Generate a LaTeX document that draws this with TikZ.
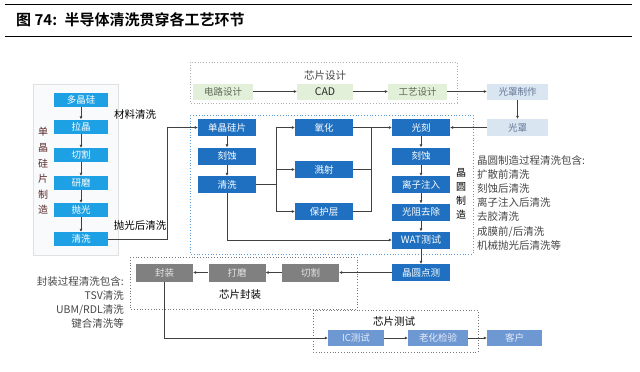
\documentclass[tikz,border=0pt]{standalone}
\usepackage{fontspec}
\setmainfont{Noto Sans CJK SC}[BoldFont={Noto Sans CJK SC Bold}]
\usetikzlibrary{arrows.meta,positioning,calc}
\definecolor{cyanb}{RGB}{30,160,228}
\definecolor{blueb}{RGB}{31,112,192}
\definecolor{greenf}{RGB}{226,239,217}
\definecolor{greent}{RGB}{95,105,85}
\definecolor{lbluef}{RGB}{218,229,242}
\definecolor{lbluet}{RGB}{100,120,150}
\definecolor{grayf}{RGB}{128,128,128}
\definecolor{grayt}{RGB}{228,228,228}
\definecolor{testf}{RGB}{110,152,210}
\definecolor{testt}{RGB}{228,236,250}
\definecolor{linec}{RGB}{64,64,64}
\definecolor{dgray}{RGB}{175,175,175}
\definecolor{dgray2}{RGB}{120,120,120}
\definecolor{dblue}{RGB}{91,155,213}
\definecolor{txt}{RGB}{70,70,70}
\definecolor{maroon}{RGB}{90,40,40}
\tikzset{
  boxbase/.style={inner sep=0pt, font=\fontsize{9.5}{10}\selectfont},
  cyanbox/.style={boxbase, fill=cyanb, text=white, minimum width=54pt, minimum height=14pt},
  bluebox/.style={boxbase, fill=blueb, text=white, minimum width=58pt, minimum height=17pt},
  greenbox/.style={boxbase, fill=greenf, text=greent, minimum height=16pt},
  lbluebox/.style={boxbase, fill=lbluef, text=lbluet, minimum width=61pt, minimum height=16pt},
  graybox/.style={boxbase, fill=grayf, text=grayt, minimum width=57pt, minimum height=18pt},
  testbox/.style={boxbase, fill=testf, text=testt, minimum height=16pt},
  conn/.style={draw=linec, line width=0.7pt, -{Latex[length=3pt,width=3pt]}},
  plain/.style={draw=linec, line width=0.7pt},
  frame/.style={dotted, line width=0.8pt},
  lbl/.style={inner sep=0pt, text=txt, font=\fontsize{10.5}{12}\selectfont},
}
\begin{document}
\begin{tikzpicture}[x=1pt,y=-1pt]
\useasboundingbox (0,0) rectangle (640,372);
% title
\draw[line width=1pt, black] (5,4.5) -- (632,4.5);
\draw[line width=1pt, black] (5,36) -- (632,36);
\node[anchor=west, inner sep=0pt, font=\fontsize{15}{16}\selectfont\bfseries] (title) at (16,20) {图 74:\hspace{0.5em}半导体清洗贯穿各工艺环节};

% frames
\draw[draw={rgb,255:red,225;green,225;blue,225}, fill={rgb,255:red,248;green,250;blue,252}] (33,84) rectangle (118,255);
\draw[frame, draw=dgray] (190,62) rectangle (457,103);
\draw[frame, draw=dblue] (190,115) rectangle (473,254);
\draw[frame, draw=dgray2] (130,257) rectangle (357,309);
\draw[frame, draw=dgray2] (313,310) rectangle (478,352);

% left column
\node[cyanbox] (a1) at (81,100) {多晶硅};
\node[cyanbox] (a2) at (81,126.5) {拉晶};
\node[cyanbox] (a3) at (81,155) {切割};
\node[cyanbox] (a4) at (81,183) {研磨};
\node[cyanbox] (a5) at (81,210) {抛光};
\node[cyanbox] (a6) at (81,239) {清洗};
\node[lbl, text=maroon, align=center, font=\fontsize{10}{15.6}\selectfont] (vt1) at (43,171) {单\\晶\\硅\\片\\制\\造};
\node[lbl, text=black] (l1) at (135,115) {材料清洗};
\node[lbl, text=black] (l2) at (140,226) {抛光后清洗};
\foreach \p/\q in {a1/a2,a2/a3,a3/a4,a4/a5,a5/a6} \draw[conn] (\p) -- (\q);

% design row
\node[lbl] (dlab) at (325,76) {芯片设计};
\node[greenbox, minimum width=60pt] (d1) at (223,91.5) {电路设计};
\node[greenbox, minimum width=56pt, font=\fontsize{10.5}{11}\selectfont, text={rgb,255:red,40;green,40;blue,40}] (d2) at (325,91.5) {CAD};
\node[greenbox, minimum width=59pt] (d3) at (417.5,91.5) {工艺设计};
\node[lbluebox] (d4) at (517.5,91.5) {光罩制作};
\node[lbluebox, minimum height=17pt] (d5) at (517.5,127.5) {光罩};
\draw[conn] (d1) -- (d2);
\draw[conn] (d2) -- (d3);
\draw[conn] (d3) -- (d4);
\draw[conn] (d4) -- (d5);

% wafer fab
\node[bluebox] (w1) at (227,127.5) {单晶硅片};
\node[bluebox] (w2) at (227,156) {刻蚀};
\node[bluebox] (w3) at (227,184.5) {清洗};
\node[bluebox] (m1) at (324,127.5) {氧化};
\node[bluebox] (m2) at (324,169.5) {溅射};
\node[bluebox] (m3) at (324,211.5) {保护层};
\node[bluebox] (r1) at (421,127.5) {光刻};
\node[bluebox] (r2) at (421,156) {刻蚀};
\node[bluebox] (r3) at (421,184.5) {离子注入};
\node[bluebox] (r4) at (421,212) {光阻去除};
\node[bluebox, font=\fontsize{10}{11}\selectfont] (r5) at (421,240) {WAT测试};
\node[bluebox] (r6) at (421,272.5) {晶圆点测};
\node[lbl, text=black, align=center, font=\fontsize{10}{14}\selectfont] (vt2) at (461,194) {晶\\圆\\制\\造};

\draw[conn] (a6.east) -| ([xshift=-30pt]w1.west) -- (w1.west);
\draw[conn] (w1) -- (w2);
\draw[conn] (w2) -- (w3);
\coordinate (tl) at (276,184.5);
\coordinate (tr) at (371,127.5);
\draw[plain] (w3.east) -- (tl);
\draw[conn] (tl) |- (m1.west);
\draw[conn] (tl) |- (m3.west);
\draw[conn] (tl |- m2.west) -- (m2.west);
\draw[plain] (m2.east) -| (tr);
\draw[plain] (m3.east) -| (tr);
\draw[conn] (m1.east) -- (r1.west);
\draw[conn] (d5.west) -- (r1.east);
\foreach \p/\q in {r1/r2,r2/r3,r3/r4,r4/r5,r5/r6} \draw[conn] (\p) -- (\q);
\draw[conn] (w3.south) |- (r5.west);

% right text
\node[lbl, anchor=north west, align=left, font=\fontsize{10.5}{14.2}\selectfont] (rt) at (477,155) {晶圆制造过程清洗包含:\\扩散前清洗\\刻蚀后清洗\\离子注入后清洗\\去胶清洗\\成膜前/后清洗\\机械抛光后清洗等};

% packaging
\node[graybox] (p1) at (164.5,272.5) {封装};
\node[graybox] (p2) at (237,272.5) {打磨};
\node[graybox] (p3) at (310.5,272.5) {切割};
\node[lbl, text=black] (plab) at (240,295) {芯片封装};
\draw[conn] (r6) -- (p3);
\draw[conn] (p3) -- (p2);
\draw[conn] (p2) -- (p1);
\node[lbl, anchor=north east, align=right, font=\fontsize{10.5}{14}\selectfont] (lt) at (124,276) {封装过程清洗包含:\\TSV清洗\\UBM/RDL清洗\\键合清洗等};

% test
\node[lbl, text=black] (tlab) at (394,322) {芯片测试};
\node[testbox, minimum width=56pt] (t1) at (356,338) {IC测试};
\node[testbox, minimum width=60pt] (t2) at (438,338) {老化检验};
\node[testbox, minimum width=55pt] (t3) at (514.5,338) {客户};
\draw[conn] (p1.south) |- (t1.west);
\draw[conn] (t1) -- (t2);
\draw[conn] (t2) -- (t3);
\end{tikzpicture}
\end{document}
